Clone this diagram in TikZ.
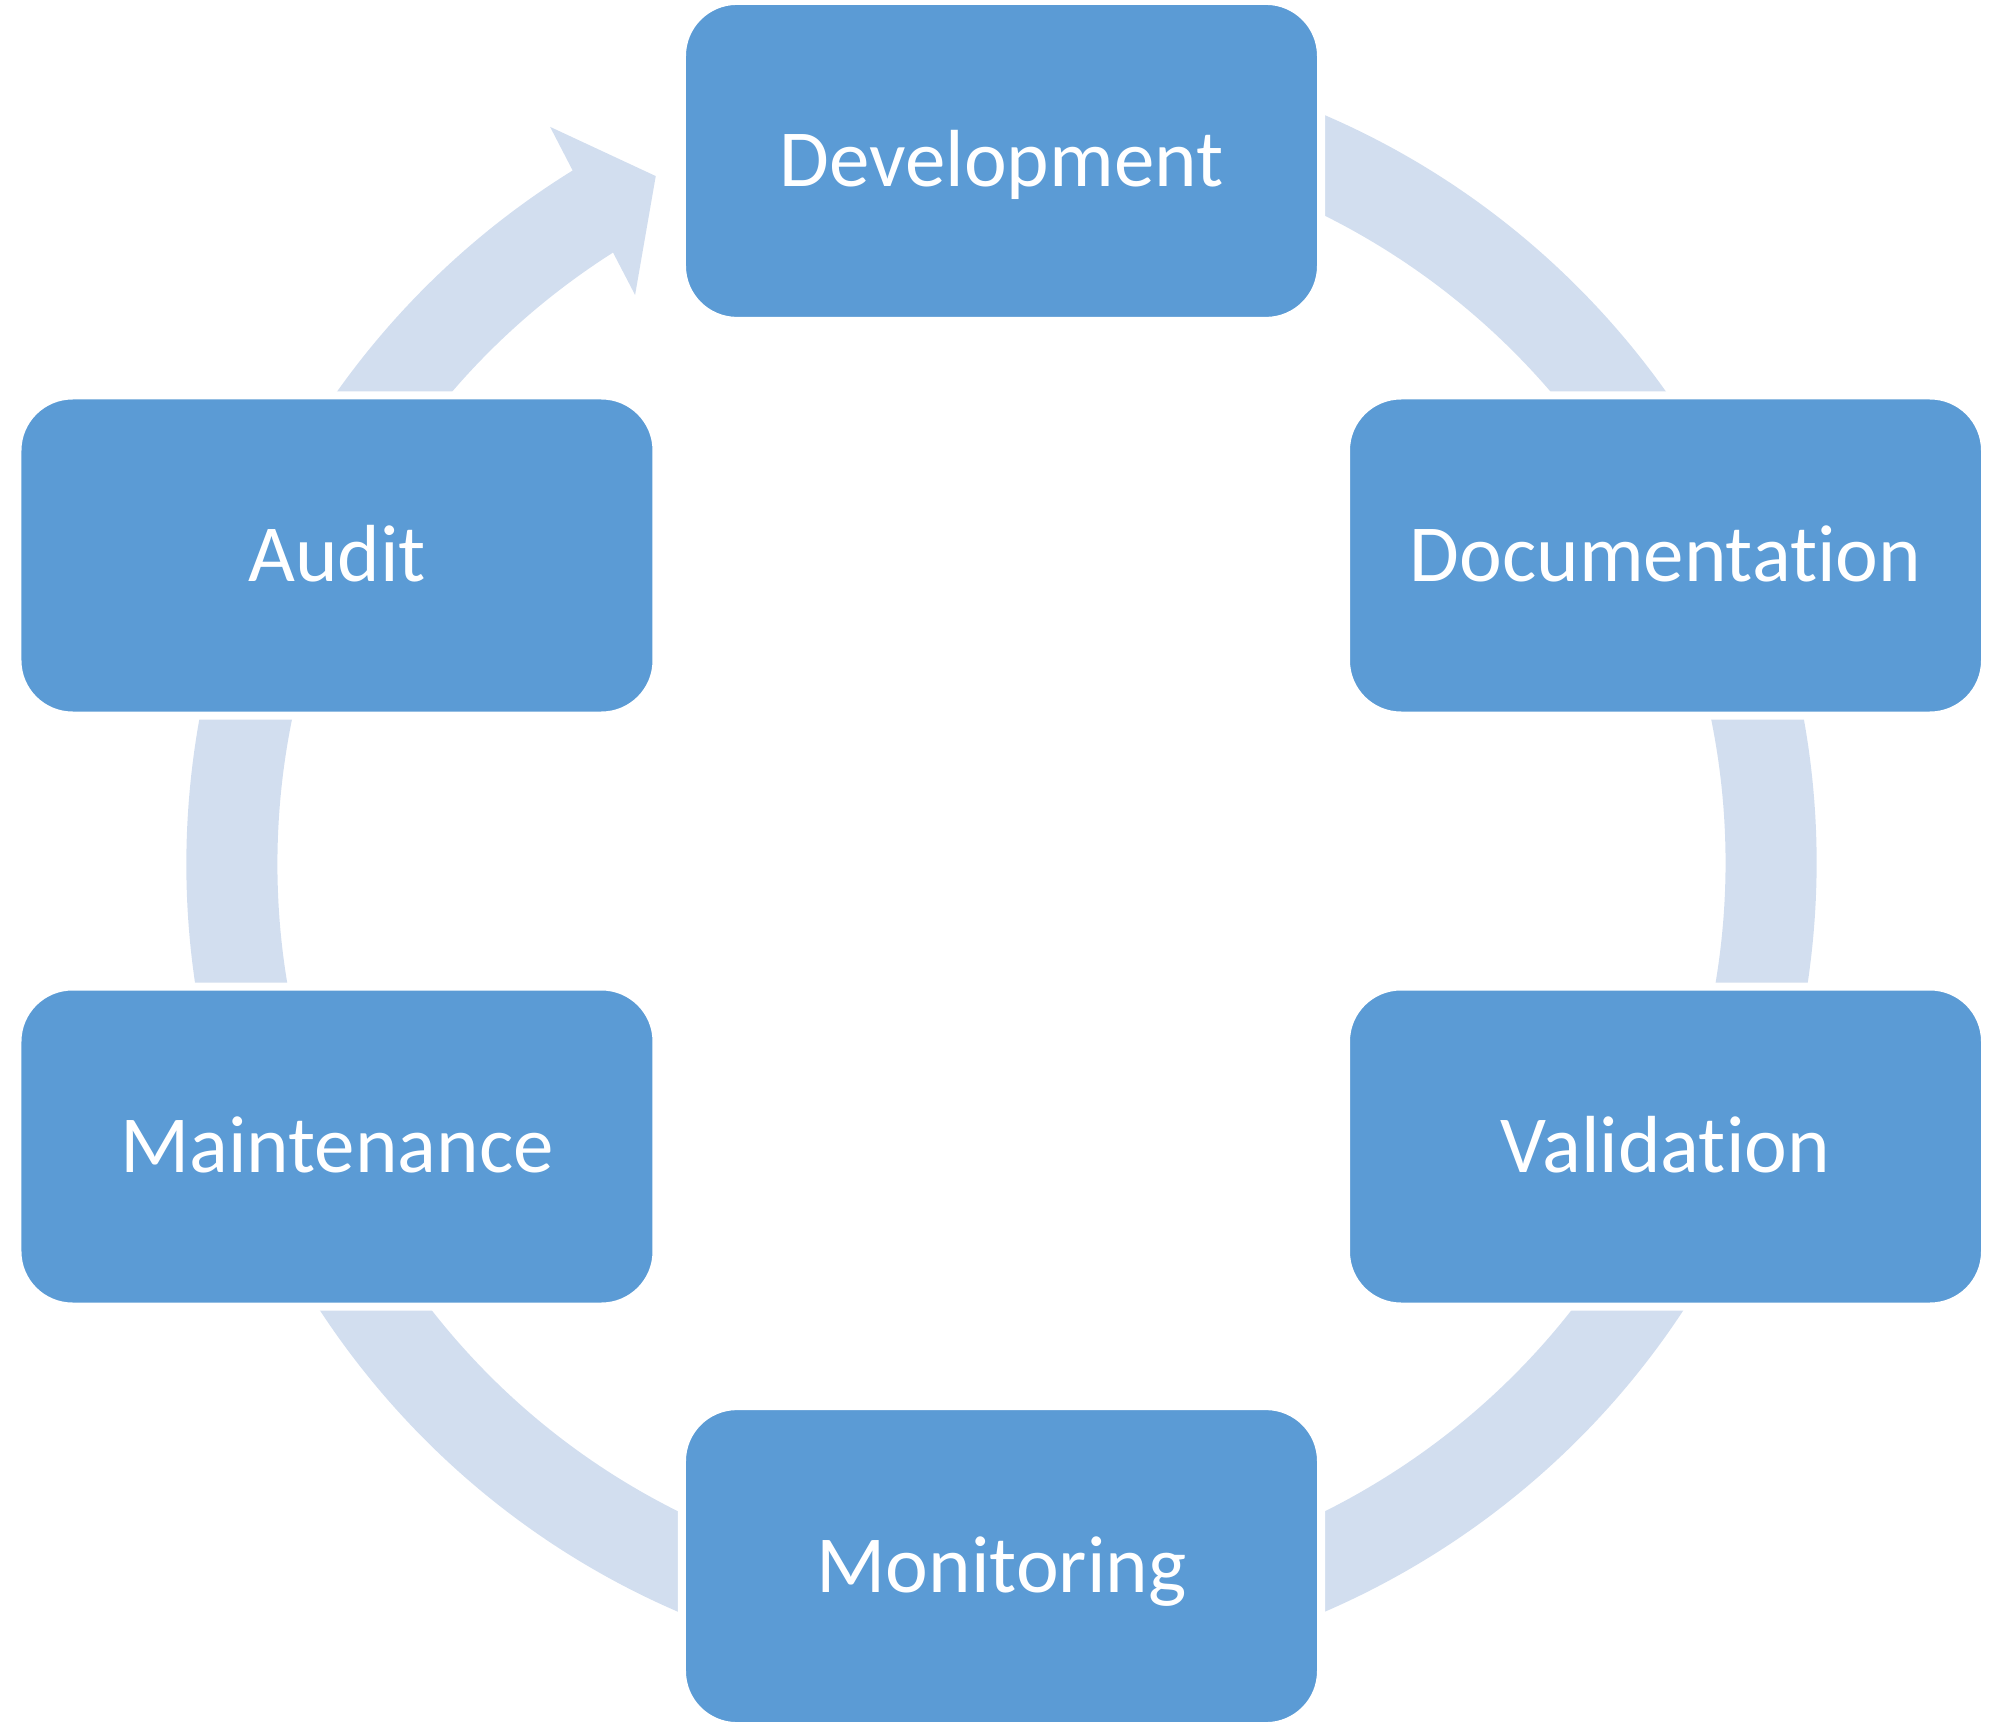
\documentclass[tikz,border=0pt]{standalone}
\usepackage{fontspec}
\setmainfont{Carlito}[Ligatures={CommonOff,ContextualOff}]
\usepackage{tikz}
\usetikzlibrary{positioning}
\definecolor{stagefill}{RGB}{91,155,213}
\definecolor{ringfill}{RGB}{210,222,239}
\tikzset{stage/.style = {fill=stagefill, draw=white, line width=4pt, rounded corners=27.5pt,
    minimum width=319.5pt, minimum height=160pt, inner sep=0,
    text=white, font=\fontsize{40.5}{48}\selectfont, text height=26pt, text depth=0pt}}
\begin{document}
\begin{tikzpicture}[x=0.5pt,y=0.5pt]
        \useasboundingbox (-1001.5,-866.5) rectangle (1001.5,863.5);
        % the ring with its arrowhead
        \fill [ringfill] (80:815) arc [start angle=80, end angle=-238.25, radius=815]
            -- (121.5:864) -- (116.7:769.5) -- (122.8:676.4) -- (122.45:724)
            arc [start angle=-237.55, end angle=80, radius=724] -- cycle;
        % the stages
        \node [stage] (development) at (0,702.6) {Development};
        \node [stage] (documentation) at (664,308) {Documentation};
        \node [stage] (validation) at (664,-283) {Validation};
        \node [stage] (monitoring) at (0,-702.6) {Monitoring};
        \node [stage] (maintenance) at (-664.5,-283) {Maintenance};
        \node [stage] (audit) at (-664.5,308) {Audit};
    \end{tikzpicture}
\end{document}
